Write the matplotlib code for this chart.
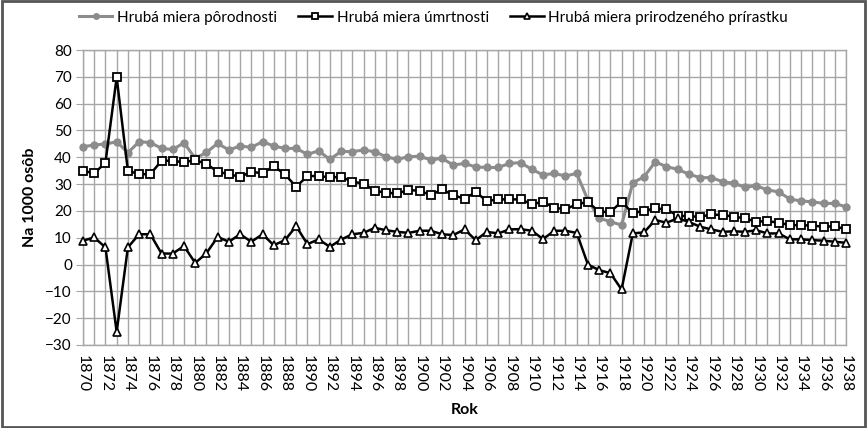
import matplotlib
matplotlib.use("Agg")
import matplotlib.pyplot as plt
import numpy as np

# Roky a hodnoty (na 1000 osob)
roky = list(range(1870, 1939))

porodnost = [43.9, 44.6, 44.9, 45.8, 41.7, 45.8, 45.5, 43.3, 42.9, 45.4,
             39.6, 41.8, 45.2, 42.7, 44.2, 43.7, 45.8, 44.2, 43.3, 43.3,
             41.1, 42.4, 39.2, 42.2, 42.1, 42.7, 42.1, 40.2, 39.2, 40.2,
             40.4, 39.0, 39.6, 37.1, 37.7, 36.4, 36.2, 36.2, 37.7, 38.0,
             35.5, 33.4, 34.0, 33.0, 34.0, 24.0, 17.3, 16.0, 14.7, 30.5,
             32.7, 38.3, 36.5, 35.5, 33.7, 32.4, 32.4, 30.9, 30.3, 28.8,
             29.4, 27.8, 27.1, 24.4, 23.7, 23.4, 22.8, 22.8, 21.5]

umrtnost = [35.0, 34.0, 38.0, 69.8, 35.0, 33.7, 33.7, 38.7, 38.7, 38.1,
            39.0, 37.5, 34.6, 33.7, 32.7, 34.6, 34.0, 36.7, 33.6, 29.0,
            33.0, 33.0, 32.5, 32.7, 30.9, 30.2, 27.5, 26.8, 26.5, 27.8,
            27.5, 25.9, 28.0, 25.9, 24.5, 27.0, 23.7, 24.3, 24.3, 24.3,
            22.5, 23.4, 21.2, 20.6, 22.5, 23.3, 19.7, 19.6, 23.4, 19.1,
            20.1, 20.9, 20.6, 18.2, 18.0, 17.8, 18.7, 18.4, 17.9, 17.2,
            16.0, 16.2, 15.6, 14.7, 14.7, 14.5, 14.1, 14.3, 13.1]

prirastok = [8.9, 10.1, 6.4, -25.1, 6.4, 11.3, 11.3, 4.1, 4.1, 6.9,
             0.6, 4.2, 10.3, 8.5, 11.3, 8.5, 11.3, 7.2, 9.1, 14.3,
             7.6, 9.4, 6.6, 9.3, 11.3, 11.8, 13.7, 12.8, 12.2, 11.8,
             12.6, 12.6, 11.3, 11.0, 13.1, 9.1, 12.2, 11.6, 13.1, 13.2,
             12.6, 9.5, 12.6, 12.6, 11.8, 0.0, -2.1, -3.2, -9.3, 11.6,
             12.0, 16.6, 15.6, 17.2, 15.9, 14.1, 13.1, 12.2, 12.4, 12.2,
             12.8, 11.6, 11.6, 9.4, 9.4, 9.1, 8.9, 8.5, 8.1]

plt.rcParams['font.family'] = ['Lato', 'DejaVu Sans']

fig = plt.figure(figsize=(8.67, 4.28), dpi=100)
ax = fig.add_axes([83 / 867, 1 - 345 / 428, (846 - 83) / 867, (345 - 50) / 428])

# Okraj celého grafu
fig.patches.append(plt.Rectangle((0.002, 0.003), 0.996, 0.994, transform=fig.transFigure,
                                 fill=False, edgecolor="#555555", linewidth=2))

siva = "#8c8c8c"
ax.plot(roky, porodnost, color=siva, linewidth=2.2, marker="o", markersize=5,
        markerfacecolor=siva, markeredgecolor=siva, label="Hrubá miera pôrodnosti",
        zorder=3, clip_on=False)
ax.plot(roky, umrtnost, color="black", linewidth=1.8, marker="s", markersize=5.5,
        markerfacecolor="white", markeredgecolor="black", markeredgewidth=1.3,
        label="Hrubá miera úmrtnosti", zorder=4, clip_on=False)
ax.plot(roky, prirastok, color="black", linewidth=1.8, marker="^", markersize=6,
        markerfacecolor="white", markeredgecolor="black", markeredgewidth=1.2,
        label="Hrubá miera prirodzeného prírastku", zorder=5, clip_on=False)

# Osi
ax.set_xlim(1870, 1938)
ax.set_ylim(-30, 80)
ax.set_yticks(np.arange(-30, 81, 10))
ax.set_xticks(roky, minor=True)
ax.set_xticks(roky[::2])
ax.set_xticklabels([str(r) for r in roky[::2]], rotation=-90)

ax.grid(True, which="both", axis="x", color="#a6a6a6", linewidth=1)
ax.grid(True, which="major", axis="y", color="#a6a6a6", linewidth=1)
ax.set_axisbelow(True)
for s in ax.spines.values():
    s.set_color("#a6a6a6")
    s.set_linewidth(1)

ax.tick_params(axis="y", length=5, color="#a6a6a6", labelsize=11, pad=3)
ax.tick_params(axis="x", which="both", length=0, labelsize=11.5, pad=7)

ax.set_ylabel("Na 1000 osôb", fontsize=11.5, fontweight="bold", labelpad=6)
ax.set_xlabel("Rok", fontsize=11.5, fontweight="bold", labelpad=8)

fig.legend(loc="upper center", bbox_to_anchor=(0.5, 1.0), ncol=3, frameon=False,
           fontsize=11, handlelength=2.2, handletextpad=0.3, columnspacing=1.4,
           borderaxespad=0.3, markerscale=0.8)

fig.savefig("out.png", dpi=100)
